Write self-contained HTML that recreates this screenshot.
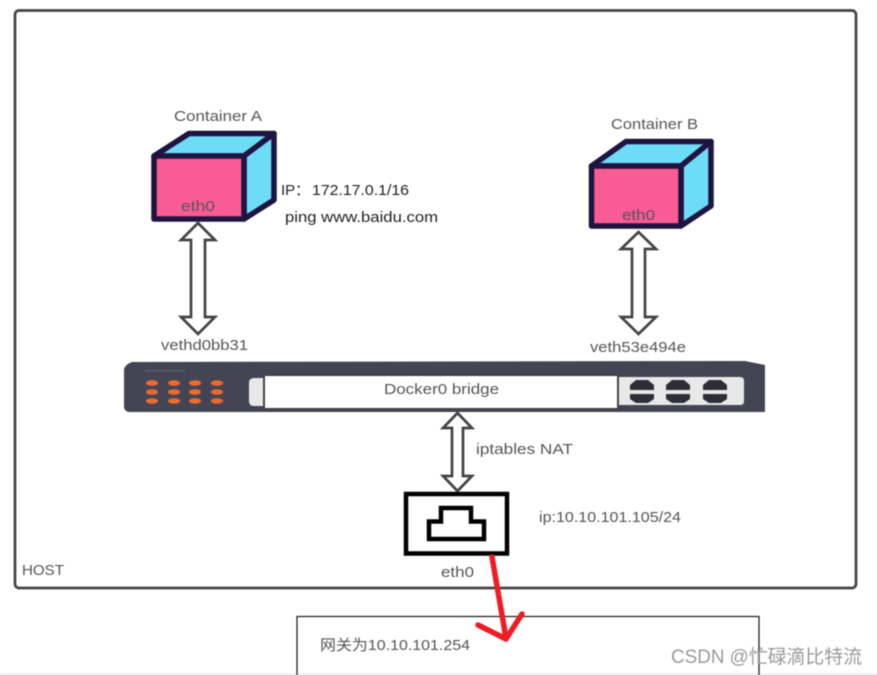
<!DOCTYPE html>
<html>
<head>
<meta charset="utf-8">
<style>
html,body{margin:0;padding:0;background:#fff;width:877px;height:675px;overflow:hidden}
svg{display:block;filter:blur(0.5px)}
text{font-family:"Liberation Sans","Noto Sans CJK SC",sans-serif;font-size:15px;fill:#555}
</style>
</head>
<body>
<svg width="877" height="675" viewBox="0 0 877 675" xmlns="http://www.w3.org/2000/svg">
<rect width="877" height="675" fill="#fff"/>
<rect x="0" y="673" width="877" height="2" fill="#f0f0f0"/>

<!-- Host -->
<rect x="15" y="10.500" width="841" height="577.500" rx="4" fill="#fff" stroke="#444" stroke-width="2.700"/>
<text x="22" y="575" textLength="42" lengthAdjust="spacingAndGlyphs" fill="#666">HOST</text>

<!-- Container A -->
<g stroke="#1f1440" stroke-width="5.500" stroke-linejoin="round">
<polygon points="154,156 189,133.500 274,133.500 244,156" fill="#6ddcf6"/>
<polygon points="244,156 274,133.500 274,200 244,219" fill="#6ddcf6"/>
<rect x="154" y="156" width="90" height="63" fill="#f95b93"/>
</g>
<text x="174" y="121" textLength="88" lengthAdjust="spacingAndGlyphs" fill="#777">Container A</text>
<text x="181" y="211" textLength="34" lengthAdjust="spacingAndGlyphs" fill="#8a2c58">eth0</text>
<text x="281" y="195" style="fill:#222">IP</text>
<text x="295" y="195" style="fill:#222">：</text>
<text x="312" y="195" textLength="97" lengthAdjust="spacingAndGlyphs" style="fill:#222">172.17.0.1/16</text>
<text x="285" y="222" textLength="153" lengthAdjust="spacingAndGlyphs" style="fill:#222">ping www.baidu.com</text>

<!-- Container B -->
<g stroke="#1f1440" stroke-width="5.500" stroke-linejoin="round">
<polygon points="591.500,166 626,141.500 711,141.500 681,166" fill="#6ddcf6"/>
<polygon points="681,166 711,141.500 711,206 681,226" fill="#6ddcf6"/>
<rect x="591.500" y="166" width="89.500" height="60" fill="#f95b93"/>
</g>
<text x="611" y="129" textLength="87" lengthAdjust="spacingAndGlyphs" fill="#666">Container B</text>
<text x="622" y="220" textLength="33" lengthAdjust="spacingAndGlyphs" fill="#8a2c58">eth0</text>

<!-- Double arrows -->
<g fill="#fff" stroke="#444" stroke-width="2.700" stroke-linejoin="miter">
<polygon points="198,223 215,240 205,240 205,317 215,317 198,334 181,317 191,317 191,240 181,240"/>
<polygon points="638.500,232 656,249 645,249 645,317 656,317 638.500,334 621,317 632,317 632,249 621,249"/>
<polygon points="457.500,413 472,428 463,428 463,476 472,476 457.500,491 443,476 452,476 452,428 443,428"/>
</g>
<text x="161" y="350" textLength="87" lengthAdjust="spacingAndGlyphs" fill="#222">vethd0bb31</text>
<text x="590" y="352" textLength="96" lengthAdjust="spacingAndGlyphs" fill="#666">veth53e494e</text>

<!-- Switch -->
<path d="M132,362 L745,361 L765,365 L765,412 L130,412 Q124,412 124,406 L124,370 Q124,365 132,362 Z" fill="#444554"/>
<rect x="145" y="370" width="40" height="1.500" fill="#5a5a66"/>
<g fill="#ee6a2c">
<ellipse cx="152" cy="383" rx="6" ry="2.800"/><ellipse cx="174" cy="383" rx="6" ry="2.800"/><ellipse cx="195" cy="383" rx="6" ry="2.800"/><ellipse cx="217" cy="383" rx="6" ry="2.800"/>
<ellipse cx="152" cy="392" rx="6" ry="2.800"/><ellipse cx="174" cy="392" rx="6" ry="2.800"/><ellipse cx="195" cy="392" rx="6" ry="2.800"/><ellipse cx="217" cy="392" rx="6" ry="2.800"/>
<ellipse cx="152" cy="401" rx="6" ry="2.800"/><ellipse cx="174" cy="401" rx="6" ry="2.800"/><ellipse cx="195" cy="401" rx="6" ry="2.800"/><ellipse cx="217" cy="401" rx="6" ry="2.800"/>
</g>
<path d="M264,378 L254,378 Q249,378 249,383 L249,401 Q249,406 254,406 L264,406 Z" fill="#e8e8e8"/>
<path d="M618,377 L740,377 Q744,377 744,381 L744,401 Q744,405 740,405 L618,405 Z" fill="#e8e8e8"/>
<rect x="264" y="375" width="354" height="34" fill="#fff" stroke="#444" stroke-width="2"/>
<text x="384" y="394" textLength="115" lengthAdjust="spacingAndGlyphs" fill="#444">Docker0 bridge</text>
<g fill="#2e2e38">
<path d="M636,380 L648,380 L654,385 L654,390 L630,390 L630,385 Z M630,394 L654,394 L654,399 L648,403 L636,403 L630,399 Z"/>
<path d="M672,380 L684,380 L690,385 L690,390 L666,390 L666,385 Z M666,394 L690,394 L690,399 L684,403 L672,403 L666,399 Z"/>
<path d="M709,380 L721,380 L727,385 L727,390 L703,390 L703,385 Z M703,394 L727,394 L727,399 L721,403 L709,403 L703,399 Z"/>
</g>

<text x="476" y="454" textLength="97" lengthAdjust="spacingAndGlyphs" fill="#666">iptables NAT</text>

<!-- NIC -->
<rect x="406" y="494" width="101" height="59.500" fill="#fff" stroke="#000" stroke-width="4.500"/>
<path d="M429,521.500 L441,521.500 L441,508 L471,508 L471,521.500 L484,521.500 L484,539 L429,539 Z" fill="#fff" stroke="#000" stroke-width="4.500"/>
<text x="539" y="522" textLength="142" lengthAdjust="spacingAndGlyphs" fill="#222">ip:10.10.101.105/24</text>
<text x="441" y="577" textLength="33" lengthAdjust="spacingAndGlyphs" fill="#666">eth0</text>

<!-- Gateway box -->
<path d="M297,675 L297,616.500 L759,616.500 L759,675" fill="none" stroke="#222" stroke-width="1.300"/>
<text x="320" y="650" textLength="150" lengthAdjust="spacingAndGlyphs" fill="#222">网关为10.10.101.254</text>

<!-- Red arrow -->
<g fill="none" stroke="#ee1c25" stroke-width="5.500" stroke-linecap="round" stroke-linejoin="round">
<path d="M492,557 L506,638"/>
<path d="M478,625 L506,639 L522,614"/>
</g>

<!-- Watermark -->
<text x="671" y="663" textLength="191" lengthAdjust="spacingAndGlyphs" style="font-size:19px;fill:#9a9a9a">CSDN @忙碌滴比特流</text>
</svg>
</body>
</html>
